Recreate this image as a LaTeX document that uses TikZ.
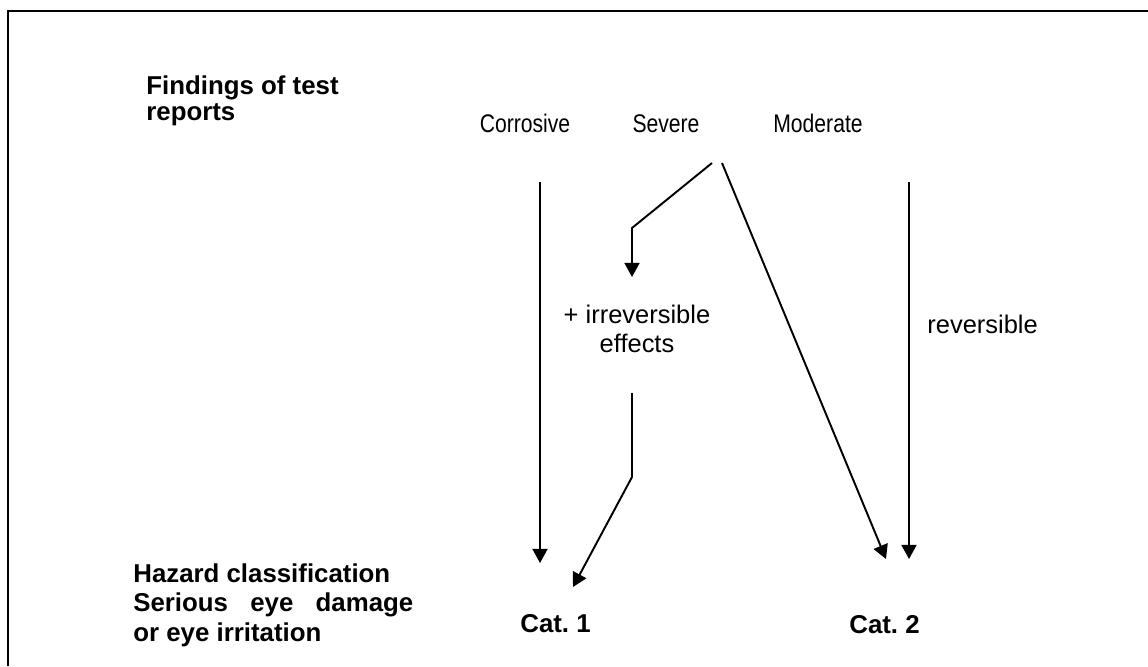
\documentclass[tikz,border=0pt]{standalone}
\usepackage{fontspec}
\usepackage{graphicx}
\setmainfont{Liberation Sans}
\usetikzlibrary{arrows.meta,positioning,calc}

\begin{document}
\begin{tikzpicture}[
    x=0.02cm, y=-0.02cm,
    txt/.style={inner sep=0pt, font=\fontsize{14.5}{17}\selectfont},
    hdr/.style={inner sep=0pt, font=\fontsize{14.7}{17}\selectfont\bfseries},
    finding/.style={txt, anchor=base},
    arr/.style={-{Triangle[length=8pt,width=8.5pt]}, line width=1.1pt}
]
\useasboundingbox (0,0) rectangle (1148,666);
\draw[line width=1.1pt] (8,666) -- (8,11) -- (1148,11);

% left column
\node[hdr, align=left, anchor=north west, font=\fontsize{14.7}{14.8}\selectfont\bfseries] (findings) at (146,75) {Findings of test\\reports};
\node[hdr, align=left, anchor=north west] (hazard) at (133,563)
    {Hazard classification\\\makebox[5.6cm][s]{Serious eye damage}\\or eye irritation};

% test findings
\node[finding] (corrosive) at (525,132) {\scalebox{0.83}[1]{Corrosive}};
\node[finding] (severe) at (666,132) {\scalebox{0.83}[1]{Severe}};
\node[finding] (moderate) at (818,132) {\scalebox{0.83}[1]{Moderate}};

% conditions and categories
\node[txt, align=center, anchor=north, font=\fontsize{14.5}{16.5}\selectfont] (irrev) at (637,305) {+ irreversible\\effects};
\node[txt, anchor=base west] (reversible) at (927,333) {reversible};
\node[hdr, anchor=base west] (cat1) at (520,632) {Cat.\ 1};
\node[hdr, anchor=base west] (cat2) at (849,633) {Cat.\ 2};

% arrow ends
\coordinate (cor-top) at (540,182);
\coordinate (cor-end) at (540,563);
\coordinate (sev-l) at (712,163);
\coordinate (sev-r) at (722,163);
\coordinate (sev-bend) at (632,228);
\coordinate (irr-in) at (632,277);
\coordinate (irr-out) at (632,393);
\coordinate (irr-knee) at (632,477);
\coordinate (c1-in) at (573,587);
\coordinate (c2-in) at (886,559);
\coordinate (mod-top) at (909,182);
\coordinate (mod-end) at (909,559);

\draw[arr] (cor-top) -- (cor-end);
\draw[arr] (sev-l) -- (sev-bend) -- (irr-in);
\draw[arr] (irr-out) -- (irr-knee) -- (c1-in);
\draw[arr] (sev-r) -- (c2-in);
\draw[arr] (mod-top) -- (mod-end);
\end{tikzpicture}
\end{document}
